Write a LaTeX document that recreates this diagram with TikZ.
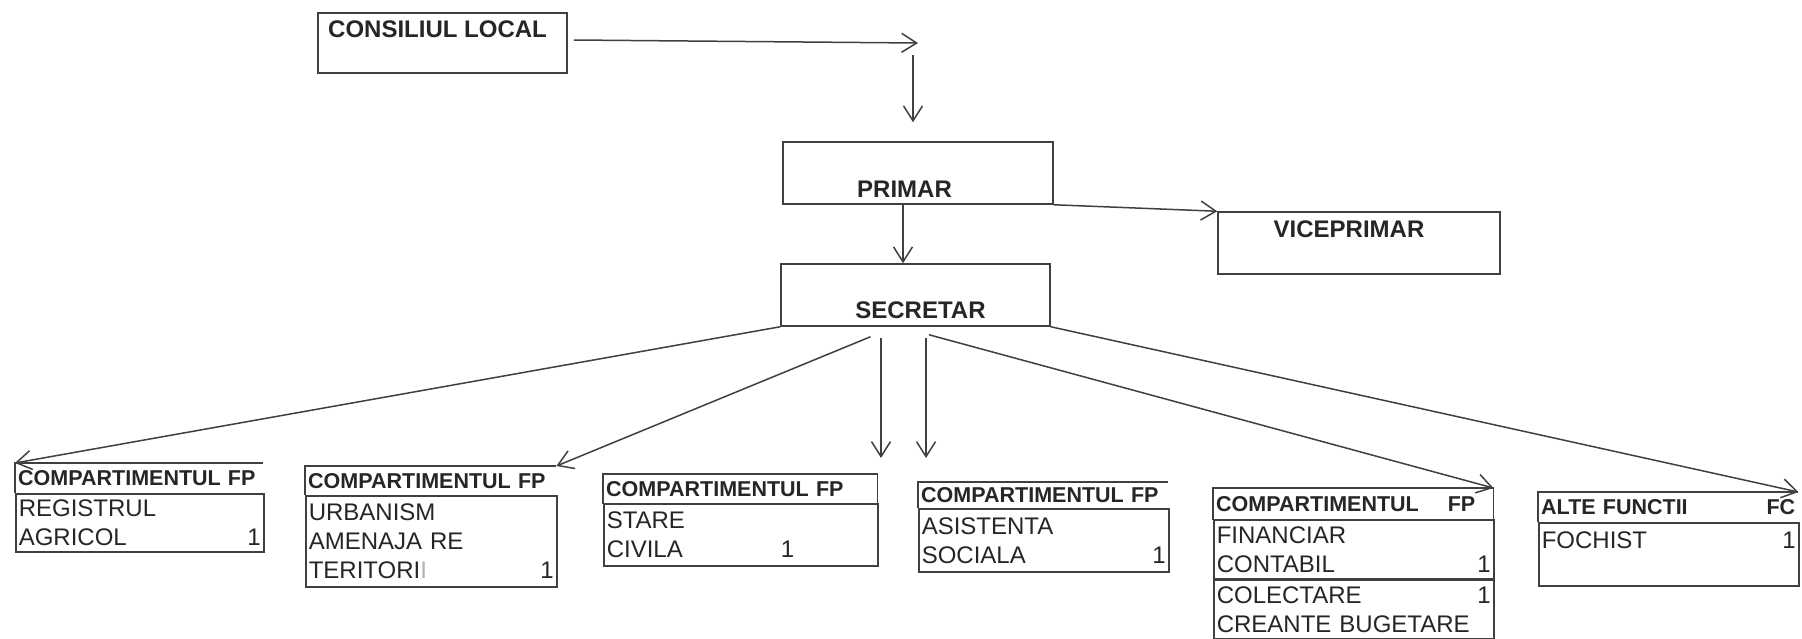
\documentclass[tikz,border=0pt]{standalone}
\usepackage{fontspec}
\setmainfont{Liberation Sans}
\usetikzlibrary{arrows.meta,calc}

\definecolor{ink}{gray}{0.25}
\definecolor{inktext}{gray}{0.15}
\newcommand{\ttlfont}{\fontsize{24}{28}\selectfont\bfseries}
\newcommand{\hdfont}{\fontsize{21.5}{26}\selectfont\bfseries}
\newcommand{\bdfont}{\fontsize{24}{29}\selectfont}

\tikzset{
  ln/.style={draw=ink,line width=1.5pt},
  arr/.style={ln,-{Straight Barb[length=15pt,width=19pt]}},
  box/.style={ln,rectangle,inner sep=0pt},
  ttl/.style={font=\ttlfont,text=inktext,inner sep=0pt,anchor=base},
  hd/.style={anchor=north west,font=\hdfont,text=inktext,align=left,inner xsep=3pt,inner ysep=0pt},
  bd/.style={anchor=north west,ln,font=\bdfont,text=inktext,align=left,inner xsep=3pt,inner ysep=0pt},
}

\begin{document}
\begin{tikzpicture}[x=1pt,y=-1pt]
\fill[white] (0,0) rectangle (1802,638);
\useasboundingbox (0,0) rectangle (1802,638);
%% upper part
\node[box,minimum width=249pt,minimum height=60pt] (cl) at (442.5,43) {};
\node[ttl,anchor=base west] (cl-t) at (328,37) {CONSILIUL LOCAL};
\node[box,minimum width=270pt,minimum height=62pt] (pr) at (918,173) {};
\node[ttl] (pr-t) at (904.5,197) {PRIMAR};
\node[box,minimum width=282pt,minimum height=62pt] (vp) at (1359,243) {};
\node[ttl] (vp-t) at (1349,237) {VICEPRIMAR};
\node[box,minimum width=269pt,minimum height=62pt] (sec) at (915.5,295) {};
\node[ttl] (sec-t) at (920.5,318) {SECRETAR};
\coordinate (k1) at (918,43);
\coordinate (k2) at (913,55);
\coordinate (d3) at (881,458);
\coordinate (d4) at (926,458);
%% compartments
\node[hd,text width=242pt,minimum height=30pt] (h1) at (15,463) {COMPARTIMENTUL FP};
\node[bd,text width=242pt,minimum height=58pt] (b1) at (h1.south west) {REGISTRUL\\AGRICOL\hfill 1};
\node[hd,text width=245pt,minimum height=29pt] (h2) at (305,466) {COMPARTIMENTUL FP};
\node[bd,text width=245pt,minimum height=91pt] (b2) at (h2.south west) {URBANISM\\AMENAJA RE\\TERITORI\textcolor{black!30}{I}\hfill 1};
\node[hd,text width=268pt,minimum height=29pt] (h3) at (603,474) {COMPARTIMENTUL FP};
\node[bd,text width=268pt,minimum height=62pt] (b3) at (h3.south west) {STARE\\CIVILA\hspace{98pt}1};
\node[hd,text width=244pt,minimum height=26pt] (h4) at (918,482) {COMPARTIMENTUL FP};
\node[bd,text width=244pt,minimum height=63pt] (b4) at (h4.south west) {ASISTENTA\\SOCIALA\hfill 1};
\node[hd,text width=274pt,minimum height=31pt] (h5) at (1213,488) {COMPARTIMENTUL\hspace{29pt}FP};
\node[bd,text width=274pt,minimum height=59pt] (b5a) at (h5.south west) {FINANCIAR\\CONTABIL\hfill 1};
\node[bd,text width=274pt,minimum height=58pt] (b5b) at (b5a.south west) {COLECTARE\hfill 1\\CREANTE BUGETARE};
\node[hd,text width=254pt,minimum height=30pt] (h6) at (1538,492) {ALTE FUNCTII\hfill FC};
\node[bd,text width=254pt,minimum height=63pt] (b6) at (h6.south west) {FOCHIST\hfill 1\\ \mbox{}};
\draw[ln] (h1.south west) |- (h1.north east);
\draw[ln] (h2.south west) |- (h2.north east);
\draw[ln] (h3.south west) rectangle (h3.north east);
\draw[ln] (h4.south west) |- (h4.north east);
\draw[ln] (h5.south west) rectangle (h5.north east);
\draw[ln] (h6.south west) |- (h6.north east);
%% arrows
\draw[arr] ($(cl.east)+(6,-3)$) -- (k1);
\draw[arr] (k2) -- ($(pr.north)+(-5,-19)$);
\draw[arr] ($(pr.south)+(-15,0)$) -- ($(sec.north)+(-12.5,0)$);
\draw[arr] (pr.south east) -- (vp.north west);
\draw[arr] (sec.south west) -- (h1.north west);
\draw[arr] ($(sec.south)+(-45,10)$) -- (h2.north east);
\draw[arr] ($(sec.south)+(-34.5,11)$) -- (d3);
\draw[arr] ($(sec.south)+(10.5,11)$) -- (d4);
\draw[arr] ($(sec.south)+(13.5,8)$) -- (h5.north east);
\draw[arr] (sec.south east) -- (h6.north east);
%
\end{tikzpicture}
\end{document}
